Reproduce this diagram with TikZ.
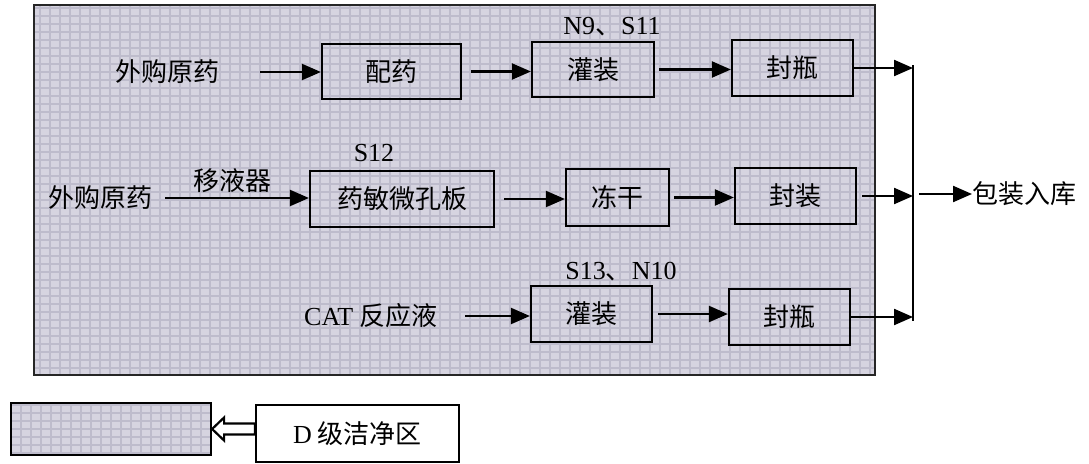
\documentclass[tikz,border=0pt]{standalone}
\usepackage{fontspec}
\setmainfont{Liberation Serif}
\newfontfamily\cj{Noto Sans CJK SC}
\usetikzlibrary{arrows.meta,calc}
\definecolor{zonefill}{RGB}{214,212,224}
\definecolor{zonegrid}{RGB}{190,188,204}
\newcommand\cjsize{\fontsize{26}{30}\selectfont}
\begin{document}
\begin{tikzpicture}[x=1pt,y=-1pt,
  zone/.style={fill=zonefill, path picture={\draw[zonegrid, line width=1.3pt]
      (path picture bounding box.south west) grid[xstep=10pt,ystep=8pt] (path picture bounding box.north east);}},
  box/.style={draw, line width=2.2pt, inner sep=0pt, font=\cj\cjsize},
  lbl/.style={inner sep=0pt, font=\cjsize},
  arr/.style={line width=2.2pt, -{Triangle[length=19pt,width=16pt]}},
  ln/.style={line width=2.2pt},
  hollow/.style={line width=2.2pt, fill=white, line join=miter}]
\useasboundingbox (0,0) rectangle (1089,463);

% clean zone background
\path[zone] (34,5) rectangle (875,375);
\draw[line width=2.2pt, black!85] (34,5) rectangle (875,375);

% row 1
\node[lbl] (src1) at (167,72) {\cj 外购原药};
\node[box, minimum width=139pt, minimum height=55pt] (pei) at (391.5,71.5) {配药};
\node[box, minimum width=122pt, minimum height=55pt] (guan1) at (593,69.5) {灌装};
\node[lbl] (n9) at (612,27) {N9{\cj 、}S11};
\node[box, minimum width=121pt, minimum height=56pt] (feng1) at (792.5,68) {封瓶};
\coordinate (bustop) at (913,65);
\coordinate (busmid) at (913,194);
\coordinate (busbot) at (913,321);
\draw[arr] ([xshift=41pt]src1.east) -- (src1.east -| pei.west);
\draw[arr] ([xshift=9pt]pei.east) -- (pei.east -| guan1.west);
\draw[arr] ([xshift=4pt]guan1.east) -- (guan1.east -| feng1.west);
\draw[arr] (feng1.east) -- (feng1.east -| bustop);
\draw[ln] (bustop) -- (busbot);

% row 2
\node[lbl] (src2) at (100,198) {\cj 外购原药};
\node[lbl] (yiye) at (232,181) {\cj 移液器};
\node[box, minimum width=184pt, minimum height=56pt] (yaomin) at (402,199) {药敏微孔板};
\node[lbl] (s12) at (374,153) {S12};
\node[box, minimum width=103pt, minimum height=57pt] (dong) at (617.5,197.5) {冻干};
\node[box, minimum width=121pt, minimum height=56pt] (feng2) at (795.5,196) {封装};
\node[lbl, anchor=west] (out) at (972,194) {\cj 包装入库};
\draw[arr] ([xshift=13pt]src2.east) -- (src2.east -| yaomin.west);
\draw[arr] ([xshift=9pt]yaomin.east) -- (yaomin.east -| dong.west);
\draw[arr] ([xshift=4pt]dong.east) -- (dong.east -| feng2.west);
\draw[arr] ([xshift=5pt]feng2.east) -- (feng2.east -| busmid);
\draw[arr] ([xshift=6pt]busmid) -- (out.west);

% row 3
\node[lbl] (cat) at (371,316) {CAT {\cj 反应液}};
\node[box, minimum width=121pt, minimum height=56pt] (guan2) at (591.5,314) {灌装};
\node[lbl] (s13) at (621,272) {S13{\cj 、}N10};
\node[box, minimum width=121pt, minimum height=56pt] (feng3) at (789.5,317) {封瓶};
\draw[arr] ([xshift=27pt]cat.east) -- (cat.east -| guan2.west);
\draw[arr] ([xshift=5pt]guan2.east) -- (guan2.east -| feng3.west);
\draw[arr] (feng3.east) -- (feng3.east -| busbot);

% legend
\node[draw, line width=2.2pt, zone, minimum width=200pt, minimum height=52pt, inner sep=0pt] (leg) at (111,429) {};
\node[box, minimum width=203pt, minimum height=57pt] (dzone) at (357.5,433.5) {{\rmfamily D} 级洁净区};
\draw[hollow] (leg.east) -- ++(12,-11.5) -- ++(0,6)
  -- ($(leg.east -| dzone.west)+(0,-5.5)$)
  -- ($(leg.east -| dzone.west)+(0,5.5)$)
  -- ($(leg.east)+(12,5.5)$) -- ++(0,6) -- cycle;
\end{tikzpicture}
\end{document}
